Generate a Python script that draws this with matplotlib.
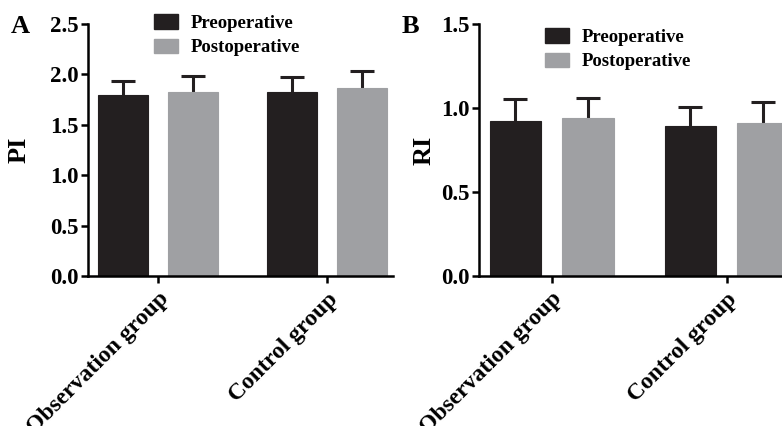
import matplotlib
matplotlib.use("Agg")
import matplotlib.pyplot as plt
import numpy as np
from matplotlib.patches import Patch

plt.rcParams['font.family'] = ['Liberation Serif', 'DejaVu Serif']
plt.rcParams['font.weight'] = 'bold'

groups = ["Observation group", "Control group"]
series = ["Preoperative", "Postoperative"]

pi_pre = [1.80, 1.83]
pi_pre_err = [0.13, 0.14]
pi_post = [1.83, 1.87]
pi_post_err = [0.15, 0.16]

ri_pre = [0.92, 0.89]
ri_pre_err = [0.135, 0.115]
ri_post = [0.94, 0.91]
ri_post_err = [0.12, 0.125]

pi_ticks = [0.0, 0.5, 1.0, 1.5, 2.0, 2.5]
ri_ticks = [0.0, 0.5, 1.0, 1.5]

c_pre = "#231f20"
c_post = "#9fa0a3"

W, H = 782, 426
fig = plt.figure(figsize=(W / 100, H / 100), dpi=100)

def px_axes(left, right, top, bottom):
    return fig.add_axes([left / W, 1 - bottom / H, (right - left) / W, (bottom - top) / H])

xl, xr = -0.415, 1.39
axA = px_axes(88, 88 + (xr - xl) * 169, 24, 276)
axB = px_axes(479, 479 + (xr - xl) * 175, 24, 276)

bw = 0.295
off = 0.207

def draw(ax, pre, pre_err, post, post_err, ticks, ylabel, label_x):
    x = np.arange(len(groups))
    for xs, vals, errs, col in [(x - off, pre, pre_err, c_pre), (x + off, post, post_err, c_post)]:
        ax.bar(xs, vals, bw, color=col, edgecolor=col, linewidth=0.8, zorder=2)
        eb = ax.errorbar(xs, vals, yerr=[np.zeros(len(vals)), errs], fmt='none',
                         ecolor=c_pre, elinewidth=2.2, capsize=8.3, capthick=2.2, zorder=1)
        eb.lines[1][0].set_visible(False)
    ax.set_xlim(xl, xr)
    ax.set_ylim(0, ticks[-1])
    ax.set_yticks(ticks)
    ax.set_yticklabels([f"{t:.1f}" for t in ticks], fontsize=16.5, fontweight='bold')
    ax.set_xticks(x)
    ax.set_xticklabels(groups, rotation=45, ha='right', rotation_mode='anchor',
                       fontsize=17, fontweight='bold')
    for s in ['top', 'right']:
        ax.spines[s].set_visible(False)
    for s in ['left', 'bottom']:
        ax.spines[s].set_linewidth(1.8)
    ax.tick_params(axis='both', direction='out', length=5, width=1.8, pad=2)
    ax.tick_params(axis='x', pad=4)
    ax.set_ylabel(ylabel, fontsize=19, fontweight='bold')
    ax.yaxis.set_label_coords(label_x, 0.5)
    return [Patch(facecolor=c_pre, edgecolor=c_pre), Patch(facecolor=c_post, edgecolor=c_post)]

hA = draw(axA, pi_pre, pi_pre_err, pi_post, pi_post_err, pi_ticks, "PI", -0.187)
hB = draw(axB, ri_pre, ri_pre_err, ri_post, ri_post_err, ri_ticks, "RI", -0.136)

leg_kw = dict(frameon=False, loc='upper left', handlelength=1.3, handleheight=0.85,
              handletextpad=0.65, labelspacing=0.35, borderpad=0, borderaxespad=0,
              bbox_transform=fig.transFigure, prop={'weight': 'bold', 'size': 13.5})
axA.legend(hA, series, bbox_to_anchor=(154 / W, 1 - 14 / H), **leg_kw)
axB.legend(hB, series, bbox_to_anchor=(545 / W, 1 - 28 / H), **leg_kw)

fig.text(11 / W, 1 - 15 / H, "A", fontsize=19, fontweight='bold', va='top', ha='left')
fig.text(402 / W, 1 - 15 / H, "B", fontsize=19, fontweight='bold', va='top', ha='left')

fig.savefig("out.png", dpi=100)
